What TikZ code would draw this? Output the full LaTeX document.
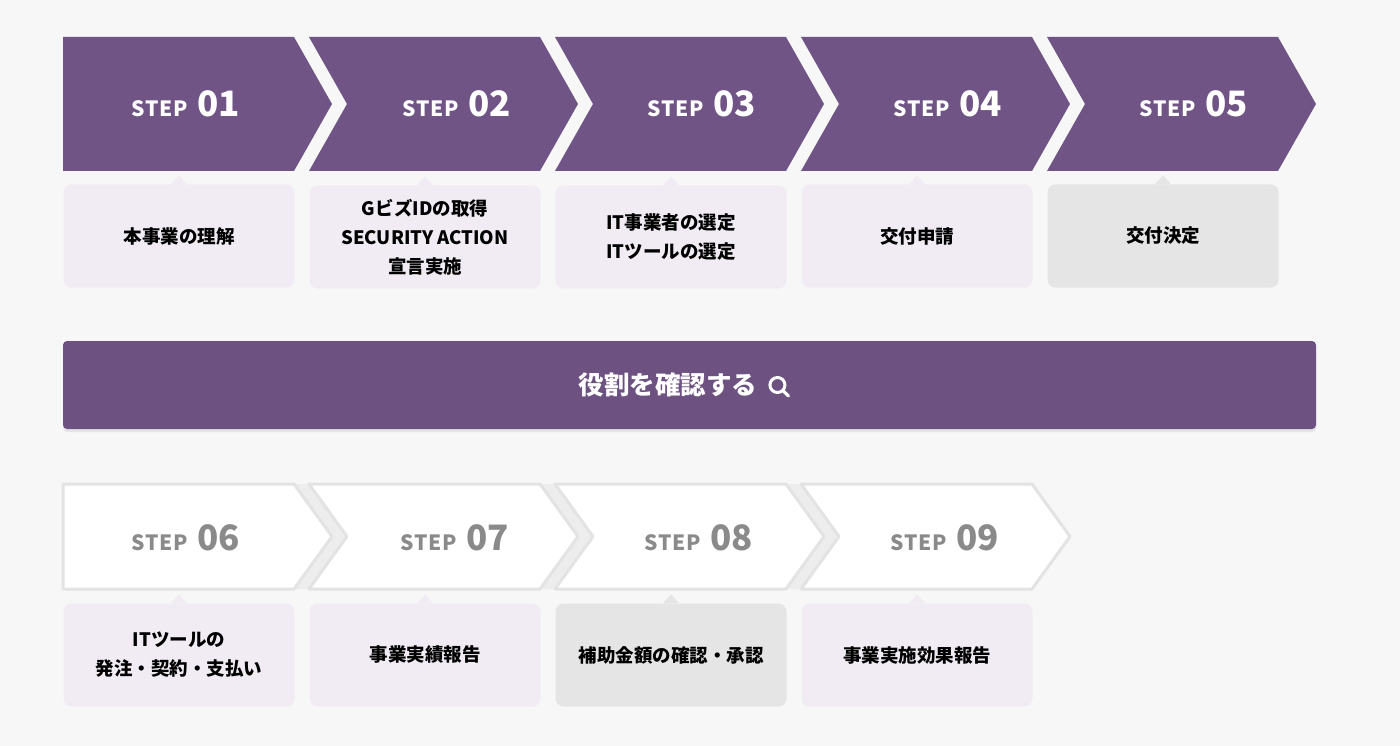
\documentclass[tikz,border=0pt]{standalone}
\usepackage{fontspec}
\setmainfont{Noto Sans CJK JP}
\usetikzlibrary{positioning,shadows}
\definecolor{stepPurple}{HTML}{6F5485}
\definecolor{btnPurple}{HTML}{6D5281}
\definecolor{boxLilac}{HTML}{F1ECF4}
\definecolor{boxGrey}{HTML}{E5E5E5}
\definecolor{pageGrey}{HTML}{F7F7F7}
\definecolor{rimGrey}{HTML}{E3E3E3}
\definecolor{gapGrey}{HTML}{EDEDED}
\definecolor{labelGrey}{HTML}{8A8A8A}
\newcommand{\steplabel}[1]{{\fontsize{21}{21}\selectfont\addfontfeatures{LetterSpace=3}STEP}\hspace{10pt}{\fontsize{35}{35}\selectfont #1}}
\tikzset{
  stepnum/.style={font=\bfseries, inner sep=0pt, anchor=center},
  infobox/.style={rounded corners=8pt, minimum width=231pt, minimum height=103pt,
    align=center, inner sep=0pt, font=\bfseries\fontsize{18.5}{29}\selectfont},
  rolebutton/.style={fill=btnPurple, rounded corners=4pt, minimum width=1253pt,
    minimum height=88pt, drop shadow={opacity=0.15, shadow xshift=0pt, shadow yshift=-3pt}},
}
\begin{document}
\begin{tikzpicture}[line cap=round, line join=round, x=1pt, y=-1pt]
                \useasboundingbox (0,0) rectangle (1400,746);
                \fill[pageGrey] (0,0) rectangle (1400,746);
                % upper row of arrows
                \foreach \i in {0,...,4} {
                    \pgfmathsetmacro\L{63+246*\i}
                    \pgfmathsetmacro\R{\L+231}
                    \pgfmathsetmacro\N{\i==0 ? \L : \L+38}
                    \fill[stepPurple] (\L,37) -- (\R,37) -- ({\R+38},104) -- (\R,171) -- (\L,171) -- (\N,104) -- cycle;
                }
                \foreach \num/\cx in {01/186, 02/457, 03/702, 04/948, 05/1194}
                    \node[stepnum, text=white] (s\num) at (\cx,104) {\steplabel{\num}};
                % lower row of arrows
                \foreach \i in {0,...,2} {
                    \pgfmathsetmacro\R{63+246*\i+231}
                    \pgfmathsetmacro\M{63+246*(\i+1)}
                    \fill[gapGrey] (\R,484) -- (\M,484) -- ({\M+38},536.5) -- (\M,589) -- (\R,589) -- ({\R+38},536.5) -- cycle;
                }
                \foreach \i in {0,...,3} {
                    \pgfmathsetmacro\L{63+246*\i}
                    \pgfmathsetmacro\R{\L+231}
                    \pgfmathsetmacro\N{\i==0 ? \L : \L+38}
                    \draw[rimGrey, fill=white, line width=3pt] (\L,484) -- (\R,484) -- ({\R+38},536.5) -- (\R,589) -- (\L,589) -- (\N,536.5) -- cycle;
                }
                \foreach \num/\cx in {06/186, 07/455, 08/699, 09/945}
                    \node[stepnum, text=labelGrey] (s\num) at (\cx,538) {\steplabel{\num}};
                % boxes under the arrows
                \foreach \num/\cx/\cy/\shade/\txt in {
                        01/179/236/boxLilac/本事業の理解,
                        02/425/237/boxLilac/{GビズIDの取得\\SECURITY ACTION\\宣言実施},
                        03/671/237/boxLilac/{IT事業者の選定\\ITツールの選定},
                        04/917/236/boxLilac/交付申請,
                        05/1163/236/boxGrey/交付決定,
                        06/179/655/boxLilac/{ITツールの\\発注・契約・支払い},
                        07/425/655/boxLilac/事業実績報告,
                        08/671/655/boxGrey/補助金額の確認・承認,
                        09/917/655/boxLilac/事業実施効果報告} {
                    \node[infobox, fill=\shade] (b\num) at (\cx,\cy) {\txt};
                    \fill[\shade] ([xshift=-8pt]b\num.north) -- ([yshift=9pt]b\num.north) -- ([xshift=8pt]b\num.north) -- cycle;
                }
                % button
                \node[rolebutton] (roles) at (689.5,385) {};
                \node[text=white, inner sep=0pt, font=\bfseries\fontsize{25.5}{26}\selectfont] (rolestext) at (668,385) {役割を確認する};
                \coordinate[right=20pt of rolestext] (lens);
                \draw[white, line width=3pt] (lens) circle (7.5pt);
                \draw[white, line width=3.2pt] ([shift={(5.5pt,-5.5pt)}]lens) -- ([shift={(11pt,-11pt)}]lens);
            \end{tikzpicture}
\end{document}
